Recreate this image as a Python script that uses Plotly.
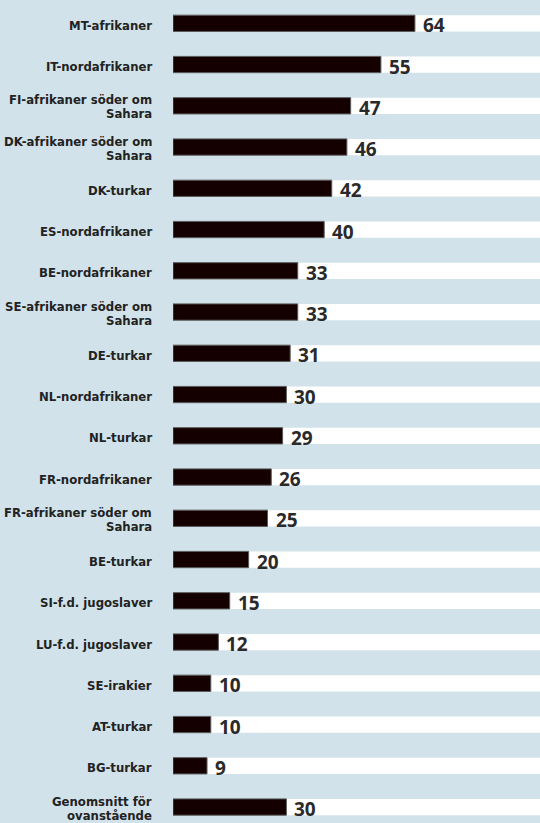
import plotly.graph_objects as go

BG = "#d2e2eb"
BAR = "#150000"
TEXT = "#222222"

categories = [
    "MT-afrikaner",
    "IT-nordafrikaner",
    "FI-afrikaner söder om<br>Sahara",
    "DK-afrikaner söder om<br>Sahara",
    "DK-turkar",
    "ES-nordafrikaner",
    "BE-nordafrikaner",
    "SE-afrikaner söder om<br>Sahara",
    "DE-turkar",
    "NL-nordafrikaner",
    "NL-turkar",
    "FR-nordafrikaner",
    "FR-afrikaner söder om<br>Sahara",
    "BE-turkar",
    "SI-f.d. jugoslaver",
    "LU-f.d. jugoslaver",
    "SE-irakier",
    "AT-turkar",
    "BG-turkar",
    "Genomsnitt för<br>ovanstående",
]
values = [64, 55, 47, 46, 42, 40, 33, 33, 31, 30, 29, 26, 25, 20, 15, 12, 10, 10, 9, 30]

W, H = 540, 823
LEFT = 173
PX_PER_UNIT = 3.78
ROW_PX = 41.25
FIRST_ROW_PX = 23.3
BAR_W = 0.395
LINE_H = 14

n = len(categories)
idx = list(range(n))

fig = go.Figure(go.Bar(
    x=values, y=idx, orientation="h", width=BAR_W,
    marker=dict(color=BAR, line=dict(color="#5a5a5a", width=1)),
    hoverinfo="skip",
))

# white band behind every bar, running to the right edge
for i in idx:
    fig.add_shape(type="rect", xref="paper", yref="y", x0=0, x1=1,
                  y0=i - BAR_W / 2, y1=i + BAR_W / 2,
                  fillcolor="white", line_width=0, layer="below")

# category labels (tight line spacing, right aligned)
label_font = dict(family="Liberation Sans Narrow, DejaVu Sans Condensed, Arial Narrow, sans-serif",
                  size=13, color=TEXT, weight="bold")
for i, lab in enumerate(categories):
    lines = lab.split("<br>")
    k = len(lines)
    base = -2 if k == 1 else -1
    for j, ln in enumerate(lines):
        fig.add_annotation(
            x=0, xref="paper", y=i, yref="y", text=ln, showarrow=False,
            xanchor="right", yanchor="middle", xshift=-19,
            yshift=base + ((k - 1) / 2 - j) * LINE_H,
            font=label_font,
        )

# value labels
for i, v in enumerate(values):
    fig.add_annotation(
        x=v, y=i, text=str(v), showarrow=False, xanchor="left", yanchor="middle",
        xshift=6, yshift=-2,
        font=dict(family="Open Sans, sans-serif", size=19, color="#2a2a2a", weight="bold"),
    )

x_max = (W - LEFT) / PX_PER_UNIT
y_top = -FIRST_ROW_PX / ROW_PX
y_bot = (H - FIRST_ROW_PX) / ROW_PX

fig.update_layout(
    width=W, height=H,
    margin=dict(l=LEFT, r=0, t=0, b=0),
    paper_bgcolor=BG, plot_bgcolor=BG,
    showlegend=False,
    xaxis=dict(range=[0, x_max], visible=False, fixedrange=True),
    yaxis=dict(range=[y_bot, y_top], visible=False, fixedrange=True),
)

fig.write_html(
    "out.html",
    config={"displayModeBar": False},
    post_script="document.body.style.margin='0';document.body.style.overflow='hidden';",
)
